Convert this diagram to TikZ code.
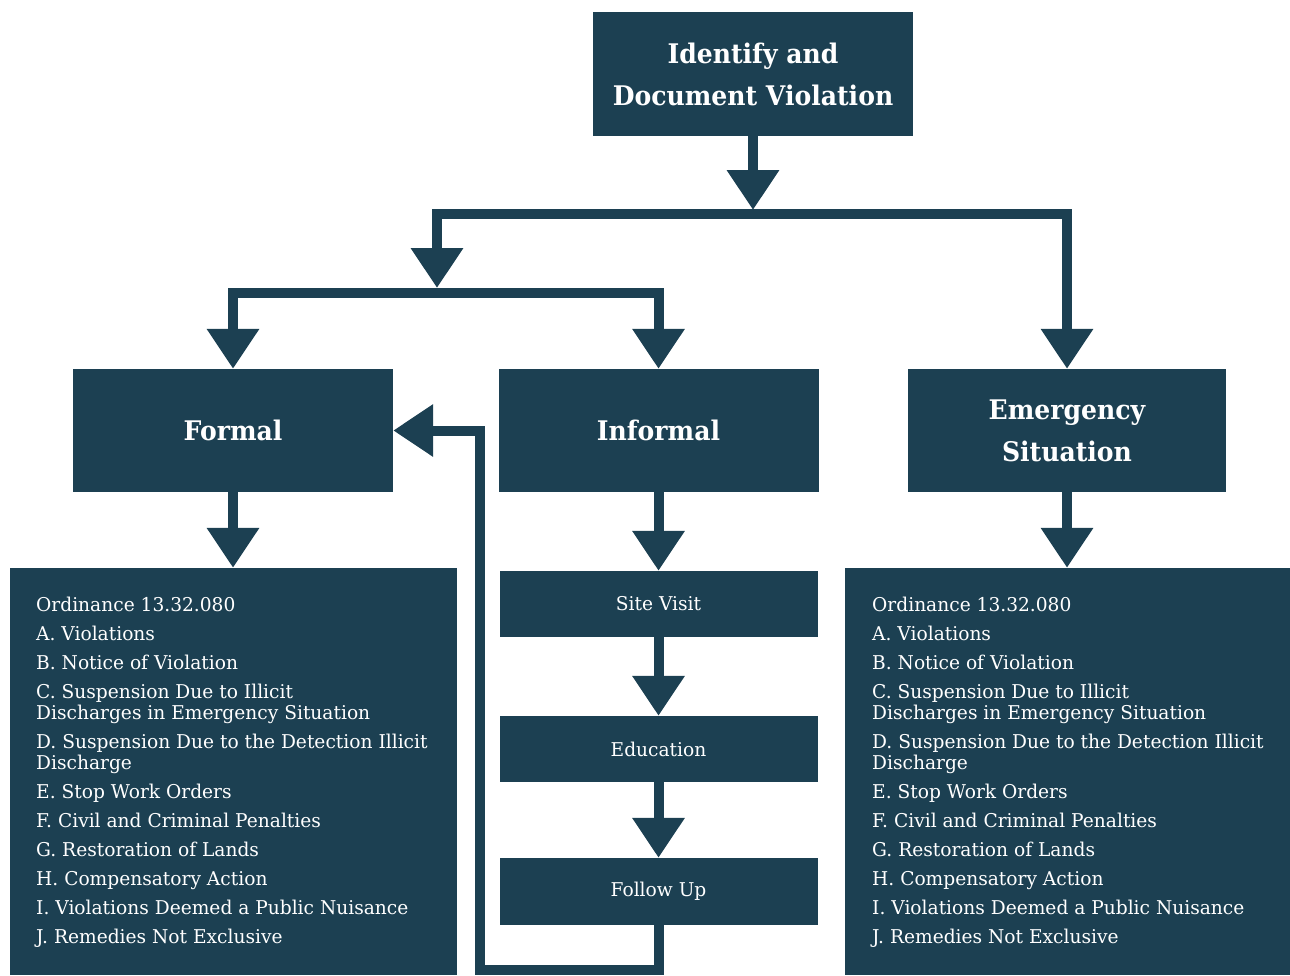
\documentclass[tikz,border=0pt]{standalone}
\usepackage{fontspec}
\newfontfamily\slab[FakeStretch=0.98]{DejaVu Serif}
\newfontfamily\slabt[FakeStretch=0.93]{DejaVu Serif}
\usetikzlibrary{arrows.meta}
\definecolor{navy}{HTML}{1C4052}
\begin{document}
\begin{tikzpicture}[x=1pt,y=-1pt,
  box/.style={fill=navy, draw=none, text=white, inner sep=0pt, align=center},
  title/.style={font=\slabt\bfseries\fontsize{27}{42}\selectfont},
  small/.style={font=\slab\fontsize{19}{22}\selectfont},
  listtext/.style={anchor=north west, text=white, align=left, inner sep=0pt, font=\slab\fontsize{19}{21}\selectfont},
  conn/.style={draw=navy, line width=10pt},
  tip/.tip={Triangle[width=50pt,length=40pt]},
  arr/.style={conn, -tip},
]
\useasboundingbox (0,0) rectangle (1290,975);
% boxes
\node[box, title, minimum width=320pt, minimum height=124pt] (top) at (753,74) {Identify and\\Document Violation};
\node[box, title, minimum width=320pt, minimum height=123pt] (formal) at (233,430.5) {Formal};
\node[box, title, minimum width=320pt, minimum height=123pt] (informal) at (658.5,430.5) {Informal};
\node[box, title, minimum width=318pt, minimum height=123pt] (emerg) at (1067,430.5) {Emergency\\Situation};
\node[box, minimum width=447pt, minimum height=407pt] (flist) at (233.5,771.5) {};
\node[box, minimum width=445pt, minimum height=407pt] (elist) at (1067.5,771.5) {};
\node[box, small, minimum width=318pt, minimum height=66pt] (site) at (658.5,604) {Site Visit};
\node[box, small, minimum width=318pt, minimum height=66pt] (edu) at (658.5,749) {Education};
\node[box, small, minimum width=318pt, minimum height=67pt] (follow) at (658.5,891.5) {Follow Up};
% list texts
\node[listtext] (ftext) at (36,597) {Ordinance 13.32.080\\[8pt]
A. Violations\\[8pt]
B. Notice of Violation\\[8pt]
C. Suspension Due to Illicit\\
Discharges in Emergency Situation\\[8pt]
D. Suspension Due to the Detection Illicit\\
Discharge\\[8pt]
E. Stop Work Orders\\[8pt]
F. Civil and Criminal Penalties\\[8pt]
G. Restoration of Lands\\[8pt]
H. Compensatory Action\\[8pt]
I. Violations Deemed a Public Nuisance\\[8pt]
J. Remedies Not Exclusive};
\node[listtext] (etext) at (872,597) {Ordinance 13.32.080\\[8pt]
A. Violations\\[8pt]
B. Notice of Violation\\[8pt]
C. Suspension Due to Illicit\\
Discharges in Emergency Situation\\[8pt]
D. Suspension Due to the Detection Illicit\\
Discharge\\[8pt]
E. Stop Work Orders\\[8pt]
F. Civil and Criminal Penalties\\[8pt]
G. Restoration of Lands\\[8pt]
H. Compensatory Action\\[8pt]
I. Violations Deemed a Public Nuisance\\[8pt]
J. Remedies Not Exclusive};
% junction coordinates
\coordinate (j1) at (753,210);
\coordinate (j2) at (437,288);
\coordinate (fb) at (480,970);
% connectors
\draw[arr] (top.south) -- (j1);
\draw[conn, tip-tip] (j2) |- (1067,214) -- (emerg.north);
\draw[conn, tip-tip] (formal.north) |- (445,293) -| (informal.north);
\draw[arr] (formal.south) -- (formal.south |- flist.north);
\draw[arr] (emerg.south) -- (emerg.south |- elist.north);
\draw[arr] (informal.south) -- (site.north);
\draw[arr] (site.south) -- (edu.north);
\draw[arr] (edu.south) -- (follow.north);
\draw[arr] (follow.south) |- (fb) |- (formal.east);
\end{tikzpicture}
\end{document}
